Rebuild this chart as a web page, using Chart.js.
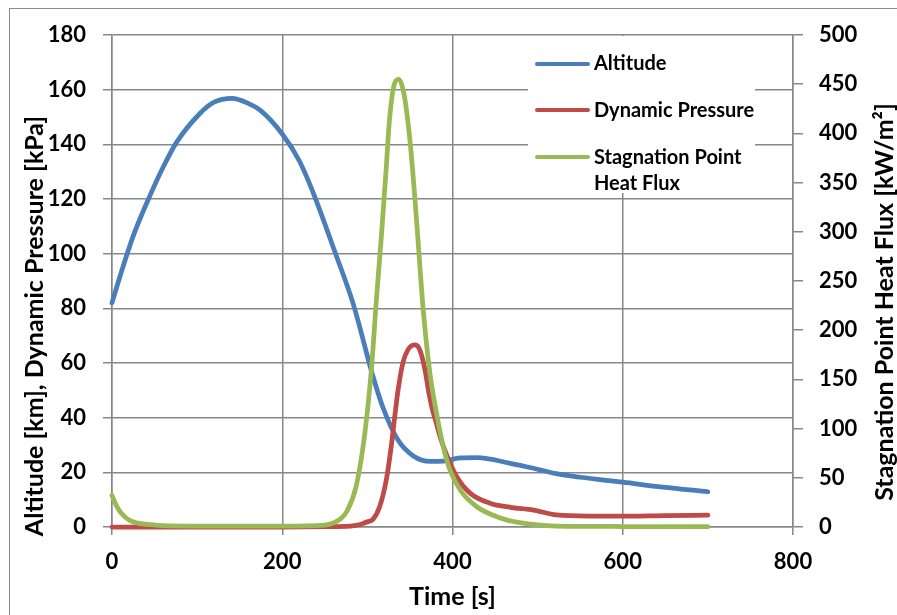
<!DOCTYPE html>
<html><head><meta charset="utf-8">
<script src="https://cdn.jsdelivr.net/npm/chart.js@4.4.0/dist/chart.umd.min.js"></script>
<style>
html,body{margin:0;padding:0;background:#fff;}
#wrap{position:relative;width:897px;height:615px;overflow:hidden;font-family:Lato,sans-serif;}
#frame{position:absolute;left:9px;top:8px;width:920px;height:640px;border-left:1.5px solid #8c8c8c;border-top:1.5px solid #8c8c8c;}
#c{position:absolute;left:0;top:0;}
#legend{position:absolute;left:528px;top:36px;width:227px;height:157px;background:#fff;}
.sw{position:absolute;left:535px;width:55px;height:4.5px;border-radius:2.5px;}
.lt{position:absolute;left:594px;font:bold 20px Lato,sans-serif;line-height:26px;color:#000;white-space:nowrap;}
</style></head>
<body>
<div id="wrap">
  <div id="frame"></div>
  <canvas id="c" width="897" height="615"></canvas>
  <div id="legend"></div>
  <div class="sw" style="top:61.8px;background:#4A7EBB"></div>
  <div class="lt" style="top:49px">Altitude</div>
  <div class="sw" style="top:107.8px;background:#BE4B48"></div>
  <div class="lt" style="top:95.5px">Dynamic Pressure</div>
  <div class="sw" style="top:154.8px;background:#98B954"></div>
  <div class="lt" style="top:142.5px">Stagnation Point<br>Heat Flux</div>
</div>
<script>
// ---- data ----
const seriesNames = ['Altitude', 'Dynamic Pressure', 'Stagnation Point Heat Flux'];
const xTitle = 'Time [s]';
const yLeftTitle = 'Altitude [km], Dynamic Pressure [kPa]';
const yRightTitle = 'Stagnation Point Heat Flux [kW/m\u00B2]';

const altT = [0, 10, 25, 45, 60, 76, 103, 120, 141, 160, 174, 200, 220, 238, 262, 283, 295, 303, 318, 336, 354, 374, 389, 409, 429, 468, 495, 522, 550, 600, 647, 700];
const altV = [82, 92.3, 106.5, 121.5, 131.6, 140.8, 151.2, 155.4, 156.8, 155, 152.5, 143.8, 134, 121, 100.5, 82, 68.5, 59, 44, 31.8, 26, 24, 24.1, 25.3, 25.4, 23.3, 21.5, 19.5, 18.2, 16.4, 14.6, 12.9];

const dpT = [0, 100, 200, 250, 280, 290, 295, 300, 306.5, 314.4, 322.2, 328, 332, 336, 341.7, 347.6, 355.4, 360, 364, 368, 372, 376, 381, 386, 393, 405, 421, 444, 468, 495, 522, 560, 600, 650, 700];
const dpV = [0, 0, 0, 0.1, 0.3, 0.8, 1.3, 1.9, 2.8, 7.4, 17.2, 29.4, 40, 50, 60, 64.8, 66.6, 65.8, 62.5, 57, 49.5, 43.5, 38, 32.5, 26.5, 18.4, 12.3, 8.7, 7.2, 6.2, 4.4, 4, 4, 4.2, 4.3];

const hfT = [0, 5, 10, 20, 30, 45, 60, 100, 200, 250, 260, 268, 276, 287, 297, 305, 310.5, 316.4, 322, 326, 332, 337, 343, 350, 356, 360.6, 365.7, 373.5, 381.4, 389, 397, 409, 428.5, 452, 479, 522, 600, 700];
const hfV = [32, 22, 15, 7, 4, 2.5, 1.5, 1, 1, 2, 4, 8, 16, 42, 95, 163, 230, 295, 363, 414, 451, 455, 440, 393, 332, 278, 220, 156, 115, 82, 58, 37.6, 20.6, 10.5, 4.4, 1, 0.5, 0.3];

const xTicks = [0, 200, 400, 600, 800];
const yLeftTicks = [0, 20, 40, 60, 80, 100, 120, 140, 160, 180];
const yRightTicks = [0, 50, 100, 150, 200, 250, 300, 350, 400, 450, 500];

// ---- helpers ----
const pts = (t, v) => t.map((x, i) => ({x: x, y: v[i]}));
const tickFont = {family: 'Lato', size: 22, weight: 'bold'};
const titleFont = {family: 'Lato', size: 25, weight: 'bold'};
const gridCol = '#888888';

const yTitlesPlugin = {
  id: 'yTitles',
  afterDraw(chart) {
    const ctx = chart.ctx, a = chart.chartArea;
    ctx.save();
    ctx.font = 'bold 25px Lato';
    ctx.fillStyle = '#000';
    ctx.textAlign = 'center';
    ctx.textBaseline = 'alphabetic';
    ctx.save();
    ctx.translate(a.left - 69, a.top + 291);
    ctx.rotate(-Math.PI / 2);
    ctx.fillText(yLeftTitle, 0, 0);
    ctx.restore();
    ctx.save();
    ctx.translate(a.right + 100, a.top + 267);
    ctx.rotate(-Math.PI / 2);
    ctx.fillText(yRightTitle, 0, 0);
    ctx.restore();
    ctx.restore();
  }
};

function build() {
  new Chart(document.getElementById('c'), {
    type: 'line',
    data: {
      datasets: [
        {label: seriesNames[0], data: pts(altT, altV), yAxisID: 'y', borderColor: '#4A7EBB', order: 3},
        {label: seriesNames[1], data: pts(dpT, dpV), yAxisID: 'y', borderColor: '#BE4B48', order: 2},
        {label: seriesNames[2], data: pts(hfT, hfV), yAxisID: 'y2', borderColor: '#98B954', order: 1}
      ].map(d => Object.assign(d, {borderWidth: 4.75, pointRadius: 0, fill: false, cubicInterpolationMode: 'monotone', borderCapStyle: 'round', borderJoinStyle: 'round', clip: false}))
    },
    options: {
      responsive: false,
      devicePixelRatio: 1,
      animation: false,
      layout: {padding: {top: 35, left: 0, right: 0, bottom: 0}},
      plugins: {legend: {display: false}, tooltip: {enabled: false}},
      scales: {
        x: {
          type: 'linear', min: 0, max: 800,
          afterBuildTicks: s => { s.ticks = xTicks.map(v => ({value: v})); },
          ticks: {font: tickFont, color: '#000', padding: 14, maxRotation: 0},
          grid: {color: gridCol, lineWidth: 1.5, tickLength: 8},
          border: {display: true, color: gridCol, width: 1.5},
          title: {display: true, text: xTitle, font: titleFont, color: '#000', padding: {top: 0, bottom: 3}},
          afterFit: s => { s.height = 88; }
        },
        y: {
          type: 'linear', position: 'left', min: 0, max: 180,
          afterBuildTicks: s => { s.ticks = yLeftTicks.map(v => ({value: v})); },
          ticks: {font: tickFont, color: '#000', padding: 17},
          grid: {color: gridCol, lineWidth: 1.5, tickLength: 9},
          border: {display: true, color: gridCol, width: 1.5},
          afterFit: s => { s.width = 112; }
        },
        y2: {
          type: 'linear', position: 'right', min: 0, max: 500,
          afterBuildTicks: s => { s.ticks = yRightTicks.map(v => ({value: v})); },
          ticks: {font: tickFont, color: '#000', padding: 16},
          grid: {drawOnChartArea: false, color: gridCol, lineWidth: 1.5, tickLength: 10},
          border: {display: true, color: gridCol, width: 1.5},
          afterFit: s => { s.width = 104; }
        }
      }
    },
    plugins: [yTitlesPlugin]
  });
}
if (document.fonts && document.fonts.load) {
  Promise.all([document.fonts.load('bold 22px Lato'), document.fonts.load('bold 25px Lato')]).then(build, build);
} else { build(); }
</script>
</body></html>
